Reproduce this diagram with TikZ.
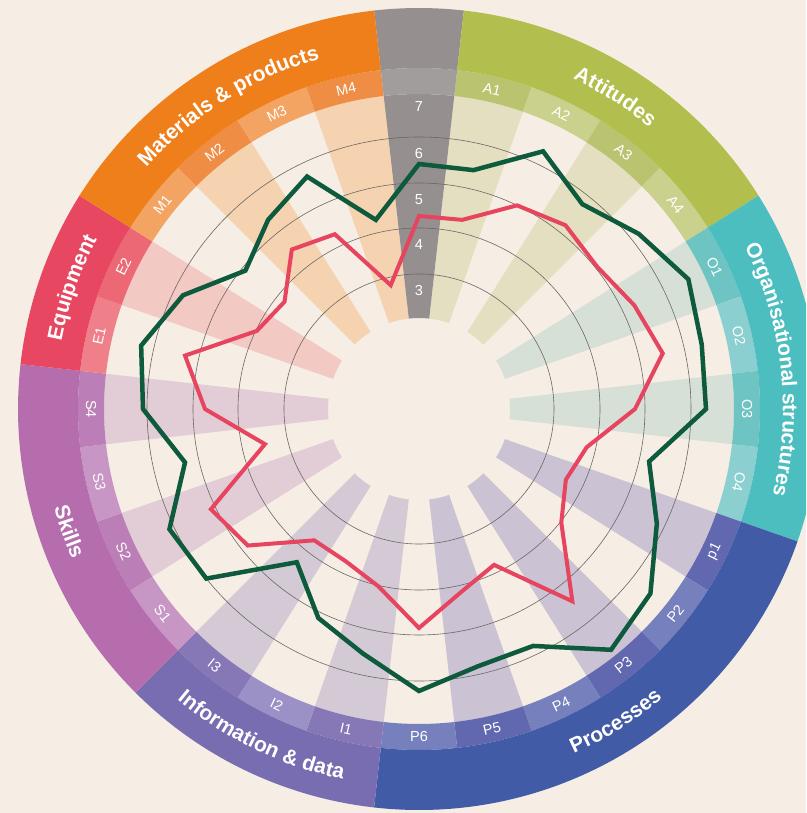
\documentclass[tikz,border=0pt]{standalone}
\usepackage{fontspec}
\setmainfont{Liberation Sans}
\usetikzlibrary{decorations.text}

\definecolor{paper}{HTML}{F6EEE4}
\definecolor{gridgray}{HTML}{6B6766}
\definecolor{scaleGray}{HTML}{958F8F}
\definecolor{scaleCell}{HTML}{A29D9D}
\definecolor{matMain}{HTML}{EF7F1A}
\definecolor{matDark}{HTML}{F08D45}
\definecolor{matLight}{HTML}{F4A462}
\definecolor{matSpoke}{HTML}{F5D3B1}
\definecolor{attMain}{HTML}{B2BF4F}
\definecolor{attDark}{HTML}{BAC470}
\definecolor{attLight}{HTML}{CAD18D}
\definecolor{attSpoke}{HTML}{E4DFC0}
\definecolor{orgMain}{HTML}{4DBEC0}
\definecolor{orgDark}{HTML}{6EC4C3}
\definecolor{orgLight}{HTML}{8CCFD0}
\definecolor{orgSpoke}{HTML}{D7E0D6}
\definecolor{proMain}{HTML}{415BA7}
\definecolor{proDark}{HTML}{6168B0}
\definecolor{proLight}{HTML}{7580BD}
\definecolor{proSpoke}{HTML}{CBC3D3}
\definecolor{infMain}{HTML}{796DB1}
\definecolor{infDark}{HTML}{8677B6}
\definecolor{infLight}{HTML}{9C91C7}
\definecolor{infSpoke}{HTML}{D4CAD6}
\definecolor{skiMain}{HTML}{B56DAD}
\definecolor{skiDark}{HTML}{BB7EB6}
\definecolor{skiLight}{HTML}{C896C4}
\definecolor{skiSpoke}{HTML}{E2CDD6}
\definecolor{equMain}{HTML}{E84762}
\definecolor{equDark}{HTML}{EC6875}
\definecolor{equLight}{HTML}{EF808A}
\definecolor{equSpoke}{HTML}{F3C9C3}
\definecolor{lineGreen}{HTML}{0E5A3D}
\definecolor{lineRed}{HTML}{E6445F}

\newcommand{\ringpart}[5]{%
    \fill[fill=#1] (#2:#4) arc[start angle=#2, end angle=#3, radius=#4]
        -- (#3:#5) arc[start angle=#3, end angle=#2, radius=#5] -- cycle;}
\newcommand{\catfont}{\fontsize{21}{24}\selectfont\bfseries}

\tikzset{
    gridline/.style={draw=gridgray, line width=0.6pt},
    celltext/.style={text=white, inner sep=0pt, font=\fontsize{14.5}{16}\selectfont},
    scaletext/.style={text=white, inner sep=0pt, font=\fontsize{14.5}{16}\selectfont},
    trendgreen/.style={draw=lineGreen, line width=4.5pt},
    trendred/.style={draw=lineRed, line width=4pt},
    catband/.style={decorate, decoration={text along path, text align=center, text color=white}}
}

\begin{document}
\begin{tikzpicture}
    \useasboundingbox (-419pt,-404pt) rectangle (387pt,409pt);
    \clip (-419pt,-404pt) rectangle (387pt,409pt);
    \fill[paper] (-419pt,-404pt) rectangle (387pt,409pt);

    \foreach \i/\lab/\cat in {1/A1/att,2/A2/att,3/A3/att,4/A4/att,5/O1/org,6/O2/org,7/O3/org,8/O4/org,
            9/p1/pro,10/P2/pro,11/P3/pro,12/P4/pro,13/P5/pro,14/P6/pro,15/I1/inf,16/I2/inf,17/I3/inf,
            18/S1/ski,19/S2/ski,20/S3/ski,21/S4/ski,22/E1/equ,23/E2/equ,24/M1/mat,25/M2/mat,26/M3/mat,27/M4/mat}{
        \pgfmathsetmacro\midang{90-\i*360/28}
        \pgfmathsetmacro\angA{\midang+180/28}
        \pgfmathsetmacro\angB{\midang-180/28}
        \pgfmathsetmacro\turn{ifthenelse(\i>8 && \i<22, \midang+90, \midang-90)}
        \ifodd\i\relax
            \ringpart{\cat Spoke}{\angA}{\angB}{91pt}{315pt}
            \ringpart{\cat Dark}{\angA}{\angB}{315pt}{341pt}
        \else
            \ringpart{\cat Light}{\angA}{\angB}{315pt}{341pt}
        \fi
        \node[celltext, rotate=\turn] (cell-\lab) at (\midang:328pt) {\lab};
    }

    \ringpart{scaleGray}{96.4286}{83.5714}{91pt}{315pt}
    \ringpart{scaleCell}{96.4286}{83.5714}{315pt}{341pt}
    \ringpart{scaleGray}{96.4286}{83.5714}{341pt}{401pt}

    \foreach \cat/\first/\last in {att/1/4,org/5/8,pro/9/14,inf/15/17,ski/18/21,equ/22/23,mat/24/27}{
        \pgfmathsetmacro\angA{90-(\first-0.5)*360/28}
        \pgfmathsetmacro\angB{90-(\last+0.5)*360/28}
        \ringpart{\cat Main}{\angA}{\angB}{341pt}{401pt}
    }

    \foreach \r in {135,181,226,272}
        \draw[gridline] (0,0) circle[radius=\r pt];

    \foreach \v/\r in {3/118,4/164,5/209,6/255,7/302}
        \node[scaletext] (scale-\v) at (90:\r pt) {\v};

    \path[catband, decoration={text={|\catfont|Materials {\&} products}}]
        (147.857:364pt) arc[start angle=147.857, end angle=96.429, radius=364pt];
    \path[catband, decoration={text={|\catfont|Attitudes}}]
        (83.571:364pt) arc[start angle=83.571, end angle=32.143, radius=364pt];
    \path[catband, decoration={text={|\catfont|Organisational structures}}]
        (32.143:364pt) arc[start angle=32.143, end angle=-19.286, radius=364pt];
    \path[catband, decoration={text={|\catfont|Equipment}}]
        (173.571:364pt) arc[start angle=173.571, end angle=147.857, radius=364pt];
    \path[catband, decoration={text={|\catfont|Processes}}]
        (-96.429:378pt) arc[start angle=-96.429, end angle=-19.286, radius=378pt];
    \path[catband, decoration={text={|\catfont|Information {\&} data}}]
        (-135:378pt) arc[start angle=-135, end angle=-96.429, radius=378pt];
    \path[catband, decoration={text={|\catfont|Skills}}]
        (-186.429:378pt) arc[start angle=-186.429, end angle=-135, radius=378pt];

    \foreach \r [count=\k from 0] in {245,245,286,262,281,299,290,287,236,264,296,308,263,264,
            282,251,232,196,272,277,240,276,285,262,222,242,258,194}
        \coordinate (g\k) at ({90-\k*360/28}:\r pt);
    \foreach \r [count=\k from 0] in {193,194,226,235,228,239,250,216,172,163,182,246,173,188,
            219,182,169,168,219,231,158,214,240,180,172,204,194,127}
        \coordinate (r\k) at ({90-\k*360/28}:\r pt);

    \draw[trendgreen] (g0) \foreach \k in {1,...,27}{ -- (g\k)} -- cycle;
    \draw[trendred] (r0) \foreach \k in {1,...,27}{ -- (r\k)} -- cycle;
\end{tikzpicture}
\end{document}
